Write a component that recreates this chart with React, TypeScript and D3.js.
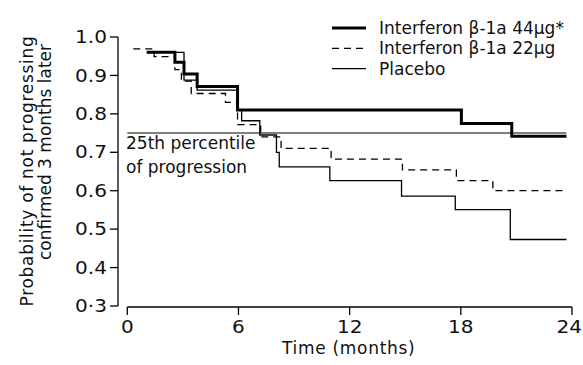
import React from "react";
import { scaleLinear, line, curveStepAfter } from "d3";

// Kaplan-Meier steps: start month of each level and the level itself
const highTimes = [1.05, 2.57, 3.06, 3.77, 5.95, 18.03, 20.75];
const highValues = [0.96, 0.934, 0.904, 0.871, 0.81, 0.775, 0.742];
const highEnd = 23.7;

const lowTimes = [0.32, 1.45, 2.57, 2.92, 3.45, 5.3, 5.95, 7.2, 8.3, 11.0, 14.85, 17.76, 19.73];
const lowValues = [0.969, 0.949, 0.915, 0.885, 0.853, 0.83, 0.772, 0.74, 0.71, 0.682, 0.654, 0.626, 0.6];
const lowEnd = 23.6;

const placeboTimes = [1.05, 3.06, 3.77, 5.95, 6.17, 7.15, 8.05, 8.2, 10.93, 14.8, 17.7, 20.67];
const placeboValues = [0.96, 0.888, 0.862, 0.81, 0.782, 0.745, 0.7, 0.662, 0.626, 0.586, 0.551, 0.473];
const placeboEnd = 23.7;

const xTicks = [0, 6, 12, 18, 24];
const yTicks = [1.0, 0.9, 0.8, 0.7, 0.6, 0.5, 0.4, 0.3];
const yTickLabels = ["1.0", "0.9", "0.8", "0.7", "0.6", "0.5", "0.4", "0·3"];
const percentileValue = 0.75;
const legendLabels = ["Interferon β-1a 44μg*", "Interferon β-1a 22μg", "Placebo"];

const FONT = "'DejaVu Sans', sans-serif";
const FS = 17;
const INK = "#111";
const DIGIT_STRETCH = 1.18; // tick numerals in the original are set wide
const WIDTH = 583;

export default function App() {
  const x = scaleLinear().domain([0, 24]).range([127.3, 572]);
  const y = scaleLinear().domain([0.3, 1.0]).range([306, 37]);

  const stepPath = (times: number[], values: number[], end: number) => {
    const pts: [number, number][] = times.map((t, i) => [t, values[i]]);
    pts.push([end, values[values.length - 1]]);
    return line<[number, number]>()
      .x((d) => x(d[0]))
      .y((d) => y(d[1]))
      .curve(curveStepAfter)(pts) ?? "";
  };

  const styles = [
    { width: 3, dash: undefined },
    { width: 1.3, dash: "7,5" },
    { width: 1.3, dash: undefined },
  ];

  return (
    <svg
      width={WIDTH}
      height={365}
      style={{ position: "absolute", left: 0, top: 0, background: "#fff" }}
      fontFamily={FONT}
    >
      {/* 25th percentile reference */}
      <line
        x1={x(0)}
        x2={x(23.7)}
        y1={y(percentileValue)}
        y2={y(percentileValue)}
        stroke="#555"
        strokeWidth={1.5}
      />
      <text x={126} y={149} fontSize={FS} fill={INK}>25th percentile</text>
      <text x={126} y={173} fontSize={FS} fill={INK}>of progression</text>

      {/* curves */}
      <path d={stepPath(placeboTimes, placeboValues, placeboEnd)} fill="none" stroke="#000" strokeWidth={1.3} />
      <path d={stepPath(lowTimes, lowValues, lowEnd)} fill="none" stroke="#000" strokeWidth={1.3} strokeDasharray="7,5" />
      <path d={stepPath(highTimes, highValues, highEnd)} fill="none" stroke="#000" strokeWidth={3} />

      {/* y axis */}
      <line x1={118} x2={118} y1={y(1.0)} y2={y(0.3)} stroke="#000" strokeWidth={1.3} />
      {yTicks.map((t, i) => (
        <g key={t}>
          <line x1={110} x2={118} y1={y(t)} y2={y(t)} stroke="#000" strokeWidth={1.3} />
          <text
            transform={`translate(107,${y(t)}) scale(${DIGIT_STRETCH},1)`}
            dy="0.36em"
            textAnchor="end"
            fontSize={FS}
            fill={INK}
          >
            {yTickLabels[i]}
          </text>
        </g>
      ))}
      <text
        transform="translate(27,171) rotate(-90)"
        textAnchor="middle"
        dy="0.36em"
        fontSize={FS}
        fill={INK}
        letterSpacing={0.7}
      >
        Probability of not progressing
      </text>
      <text transform="translate(45,152) rotate(-90)" textAnchor="middle" dy="0.36em" fontSize={FS} fill={INK}>
        confirmed 3 months later
      </text>

      {/* x axis */}
      <line x1={x(0)} x2={x(24)} y1={307} y2={307} stroke="#000" strokeWidth={1.3} />
      {xTicks.map((t) => {
        // keep the last label inside the frame, as in the original
        const half = (String(t).length * 0.636 * FS * DIGIT_STRETCH) / 2;
        const cx = Math.min(x(t), WIDTH - 1 - half);
        return (
          <g key={t}>
            <line x1={x(t)} x2={x(t)} y1={307} y2={315} stroke="#000" strokeWidth={1.3} />
            <text
              transform={`translate(${cx},333) scale(${DIGIT_STRETCH},1)`}
              textAnchor="middle"
              fontSize={FS}
              fill={INK}
            >
              {t}
            </text>
          </g>
        );
      })}
      <text x={x(11.95)} y={354} textAnchor="middle" fontSize={FS} fill={INK} letterSpacing={0.7}>
        Time (months)
      </text>

      {/* legend */}
      {legendLabels.map((label, i) => (
        <g key={label} transform={`translate(332,${28 + i * 20.3})`}>
          <line x1={0} x2={34} y1={0} y2={0} stroke="#000" strokeWidth={styles[i].width} strokeDasharray={styles[i].dash} />
          <text x={47} y={0} dy="0.36em" fontSize={FS} fill={INK}>{label}</text>
        </g>
      ))}
    </svg>
  );
}
